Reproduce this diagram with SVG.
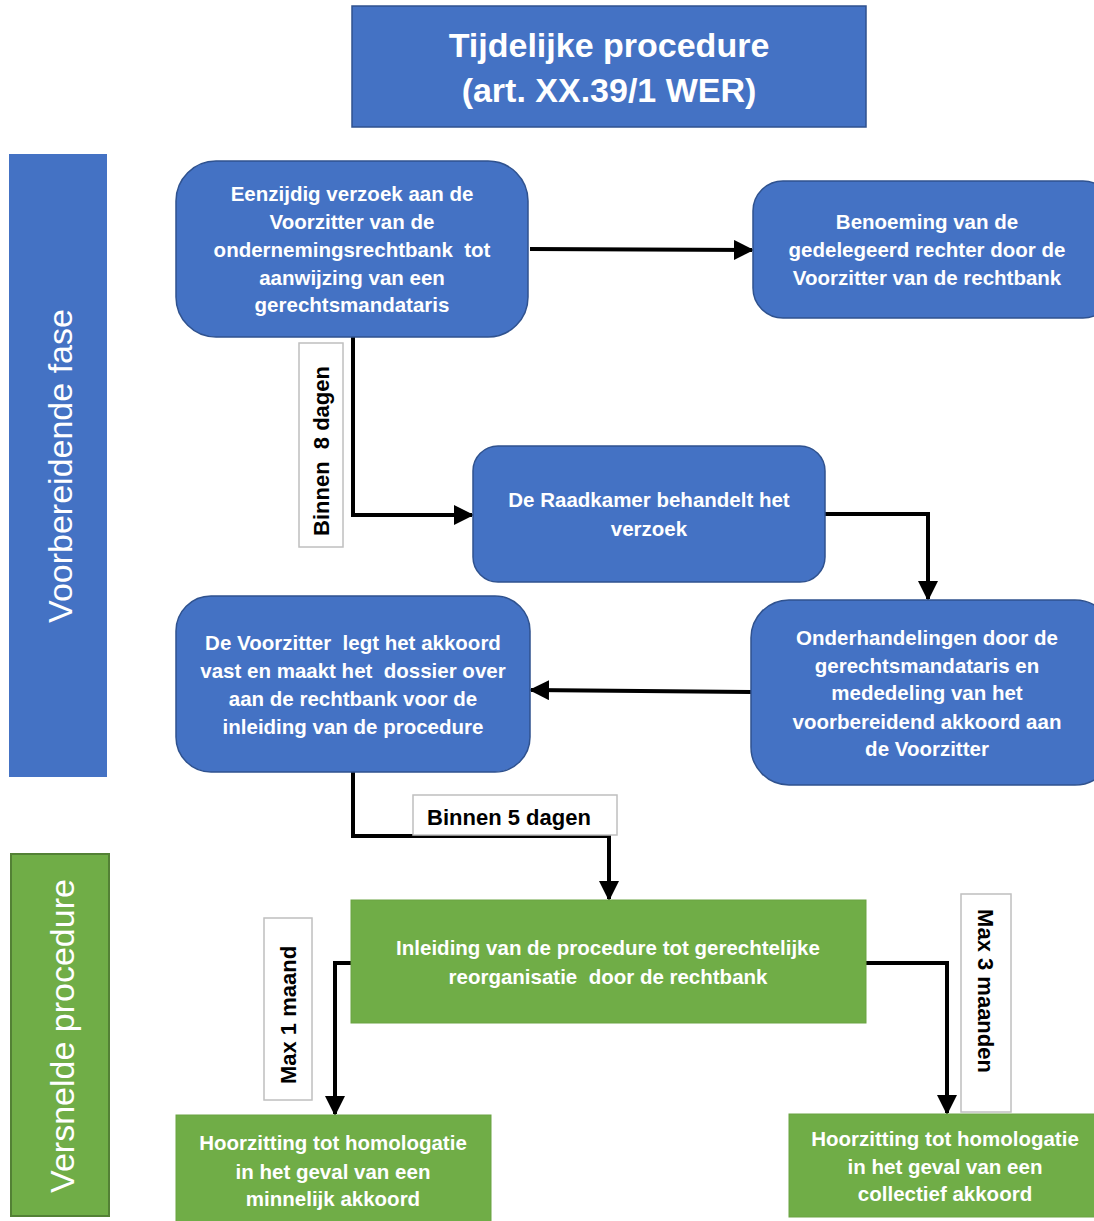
<svg xmlns="http://www.w3.org/2000/svg" width="1094" height="1221" viewBox="0 0 1094 1221">
<defs>
<style>
.blue{fill:#4472C4;stroke:#2F528F;stroke-width:1.5}
.green{fill:#70AD47;stroke:#6AA342;stroke-width:1}
.nt{font-family:"Liberation Sans",Arial,sans-serif;font-weight:bold;font-size:20.5px;fill:#fff;text-anchor:middle;white-space:pre}
.lbl{font-family:"Liberation Sans",Arial,sans-serif;font-weight:bold;font-size:22px;fill:#000;text-anchor:middle;white-space:pre}
.lbox{fill:#fff;stroke:#BFBFBF;stroke-width:1.5}
.band{font-family:"Liberation Sans",Arial,sans-serif;font-size:34px;fill:#fff;text-anchor:middle}
.con{fill:none;stroke:#000;stroke-width:4;marker-end:url(#ah)}
</style>
<marker id="ah" viewBox="0 0 10 10" refX="9" refY="5" markerWidth="5" markerHeight="5" orient="auto" markerUnits="strokeWidth">
<path d="M0,0 L10,5 L0,10 z" fill="#000"/>
</marker>
</defs>
<rect width="1094" height="1221" fill="#fff"/>

<g id="title">
<rect x="352" y="6" width="514" height="121" class="blue"/>
<text x="609" y="57" class="nt" style="font-size:34px">Tijdelijke procedure</text>
<text x="609" y="102" class="nt" style="font-size:34px">(art. XX.39/1 WER)</text>
</g>

<g id="band-voorbereidend">
<rect x="9" y="154" width="98" height="623" fill="#4472C4"/>
<text class="band" transform="translate(72,466) rotate(-90)">Voorbereidende fase</text>
</g>

<g id="band-versneld">
<rect x="11" y="854" width="98" height="362" fill="#70AD47" stroke="#538135" stroke-width="2"/>
<text class="band" transform="translate(74,1036) rotate(-90)">Versnelde procedure</text>
</g>

<g id="connectors">
<path class="con" d="M530,249 L752,250"/>
<path class="con" d="M353,337 L353,515 L472,515"/>
<path class="con" d="M825,514 L928,514 L928,599"/>
<path class="con" d="M751,692 L531,690"/>
<path class="con" d="M353,772 L353,836 L609,836 L609,899"/>
<path class="con" d="M351,963 L335,963 L335,1114"/>
<path class="con" d="M866,963 L947,963 L947,1113"/>
</g>

<g id="n1">
<rect x="176" y="161" width="352" height="176" rx="40" class="blue"/>
<text class="nt" x="352" y="201">Eenzijdig verzoek aan de</text>
<text class="nt" x="352" y="229">Voorzitter van de</text>
<text class="nt" x="352" y="257">ondernemingsrechtbank  tot</text>
<text class="nt" x="352" y="285">aanwijzing van een</text>
<text class="nt" x="352" y="312">gerechtsmandataris</text>
</g>

<g id="n2">
<rect x="753" y="181" width="360" height="137" rx="30" class="blue"/>
<text class="nt" x="927" y="229">Benoeming van de</text>
<text class="nt" x="927" y="257">gedelegeerd rechter door de</text>
<text class="nt" x="927" y="285">Voorzitter van de rechtbank</text>
</g>

<g id="n3">
<rect x="473" y="446" width="352" height="136" rx="25" class="blue"/>
<text class="nt" x="649" y="507">De Raadkamer behandelt het</text>
<text class="nt" x="649" y="536">verzoek</text>
</g>

<g id="n4">
<rect x="176" y="596" width="354" height="176" rx="35" class="blue"/>
<text class="nt" x="353" y="650">De Voorzitter  legt het akkoord</text>
<text class="nt" x="353" y="678">vast en maakt het  dossier over</text>
<text class="nt" x="353" y="706">aan de rechtbank voor de</text>
<text class="nt" x="353" y="734">inleiding van de procedure</text>
</g>

<g id="n5">
<rect x="751" y="600" width="362" height="185" rx="38" class="blue"/>
<text class="nt" x="927" y="645">Onderhandelingen door de</text>
<text class="nt" x="927" y="673">gerechtsmandataris en</text>
<text class="nt" x="927" y="700">mededeling van het</text>
<text class="nt" x="927" y="729">voorbereidend akkoord aan</text>
<text class="nt" x="927" y="756">de Voorzitter</text>
</g>

<g id="n6">
<rect x="351" y="900" width="515" height="123" class="green"/>
<text class="nt" x="608" y="955">Inleiding van de procedure tot gerechtelijke</text>
<text class="nt" x="608" y="984">reorganisatie  door de rechtbank</text>
</g>

<g id="n7">
<rect x="176" y="1115" width="315" height="110" class="green"/>
<text class="nt" x="333" y="1150">Hoorzitting tot homologatie</text>
<text class="nt" x="333" y="1179">in het geval van een</text>
<text class="nt" x="333" y="1206">minnelijk akkoord</text>
</g>

<g id="n8">
<rect x="789" y="1114" width="310" height="103" class="green"/>
<text class="nt" x="945" y="1146">Hoorzitting tot homologatie</text>
<text class="nt" x="945" y="1174">in het geval van een</text>
<text class="nt" x="945" y="1201">collectief akkoord</text>
</g>

<g id="label-8dagen">
<rect x="299" y="343" width="44" height="204" class="lbox"/>
<text class="lbl" transform="translate(329,451) rotate(-90)">Binnen  8 dagen</text>
</g>

<g id="label-5dagen">
<rect x="413" y="795" width="204" height="40" class="lbox"/>
<text class="lbl" x="509" y="825">Binnen 5 dagen</text>
</g>

<g id="label-1maand">
<rect x="264" y="918" width="48" height="182" class="lbox"/>
<text class="lbl" transform="translate(296,1015) rotate(-90)">Max 1 maand</text>
</g>

<g id="label-3maanden">
<rect x="961" y="894" width="50" height="218" class="lbox"/>
<text class="lbl" transform="translate(978,991) rotate(90)">Max 3 maanden</text>
</g>
</svg>
